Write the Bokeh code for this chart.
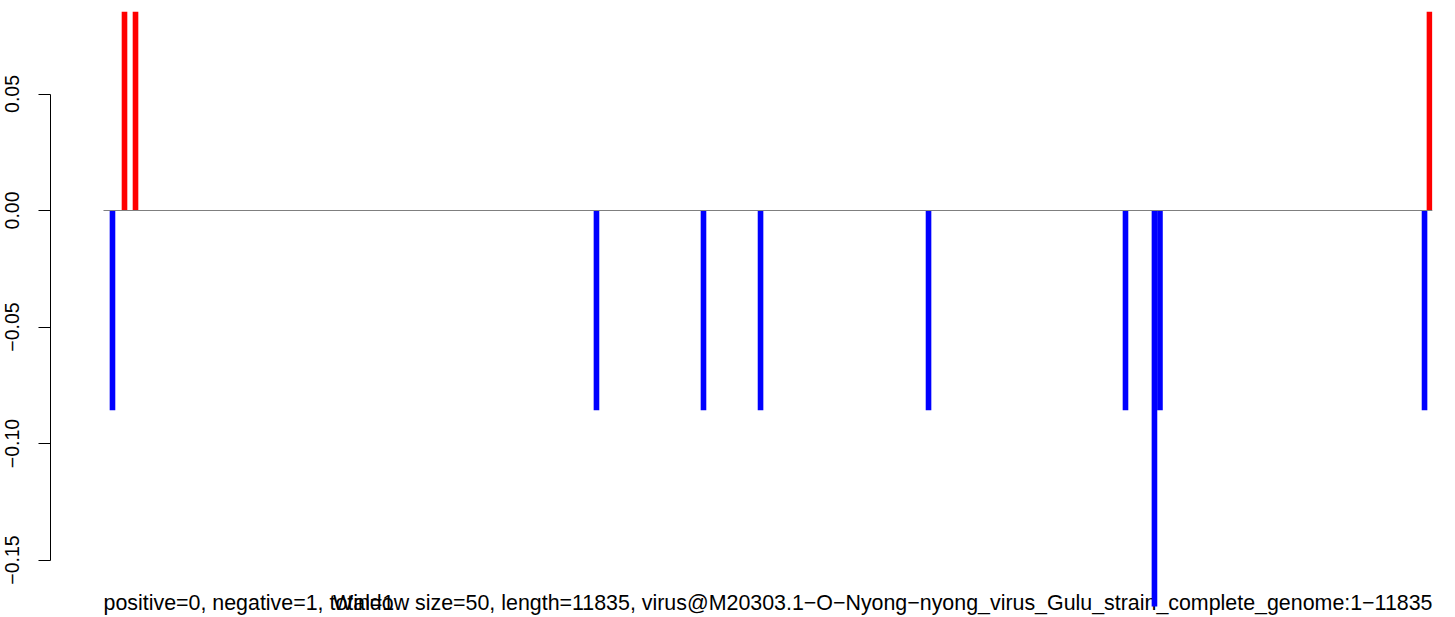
from bokeh.plotting import figure
from bokeh.models import Range1d, LinearAxis, FixedTicker, Label
from bokeh.embed import file_html
from bokeh.resources import INLINE

# ---------------- data ----------------
genome_length = 11835
window_size = 50

pos_x = [187, 285, 11808]
pos_val = [0.0857, 0.0857, 0.0857]

neg_x = [80, 4390, 5343, 5851, 7347, 9101, 9408, 9359, 11764]
neg_val = [-0.0857, -0.0857, -0.0857, -0.0857, -0.0857, -0.0857, -0.0857, -0.170, -0.0857]

y_ticks = [-0.15, -0.10, -0.05, 0.00, 0.05]
y_tick_labels = ["\u22120.15", "\u22120.10", "\u22120.05", "0.00", "0.05"]

left_text = "positive=0, negative=1, total=1"
right_text = ("Window size=50, length=11835, "
              "virus@M20303.1\u2212O\u2212Nyong\u2212nyong_virus_Gulu_strain_complete_genome:1\u221211835")

# ---------------- layout (pixels) ----------------
W, H = 1450, 617
page_off = 0
plot_left_px, plot_right_px = 103, 1432      # page x of data 0 and genome end
axis_px = 50                                  # page x of the y axis line
frame_top_px, zero_px = 11, 210               # page y
text_offset_from_bottom = 15
px_per_y = 2330.0

px_per_x = (plot_right_px - plot_left_px) / genome_length
x_start = -(plot_left_px - page_off) / px_per_x
axis_loc = -(plot_left_px - axis_px) / px_per_x

frame_bottom_px = page_off + H
y_end = (zero_px - frame_top_px) / px_per_y
y_start = -(frame_bottom_px - zero_px) / px_per_y

p = figure(width=W, height=H,
           x_range=Range1d(x_start, genome_length),
           y_range=Range1d(y_start, y_end),
           output_backend="svg", toolbar_location=None,
           x_axis_location=None, y_axis_location=None,
           min_border_left=0, min_border_right=W - (plot_right_px - page_off),
           min_border_top=frame_top_px - page_off, min_border_bottom=0)
p.outline_line_color = None
p.xgrid.visible = False
p.ygrid.visible = False
p.background_fill_color = "white"
p.border_fill_color = "white"

font = "Liberation Sans"

yaxis = LinearAxis(fixed_location=axis_loc, bounds=(-0.15, 0.05),
                   ticker=FixedTicker(ticks=y_ticks))
yaxis.major_label_overrides = {t: l for t, l in zip(y_ticks, y_tick_labels)}
yaxis.major_label_orientation = "vertical"
yaxis.major_label_text_font = font
yaxis.major_label_text_font_size = "19.5px"
yaxis.major_label_text_color = "black"
yaxis.major_label_standoff = 20
yaxis.major_tick_out = 12
yaxis.major_tick_in = 0
yaxis.minor_tick_out = 0
yaxis.minor_tick_in = 0
yaxis.axis_line_color = "black"
yaxis.major_tick_line_color = "black"
yaxis.axis_line_width = 1
p.add_layout(yaxis, "left")

# texts below everything
for txt, xx, align in [(left_text, 0, "left"), (right_text, genome_length, "right")]:
    lab = Label(x=xx, x_units="data", y=text_offset_from_bottom, y_units="screen",
                text=txt, text_font=font, text_font_size="21.4px", text_color="black",
                text_align=align, text_baseline="alphabetic", level="underlay")
    p.add_layout(lab)

p.vbar(x=pos_x, top=pos_val, bottom=0, width=window_size,
       fill_color="#FF0000", line_color=None)
p.vbar(x=neg_x, top=0, bottom=neg_val, width=window_size,
       fill_color="#0000FF", line_color=None)

p.line([0, genome_length], [0, 0], line_color="#7f7f7f", line_width=1.2)

open("out.html", "w").write(file_html(p, INLINE))
